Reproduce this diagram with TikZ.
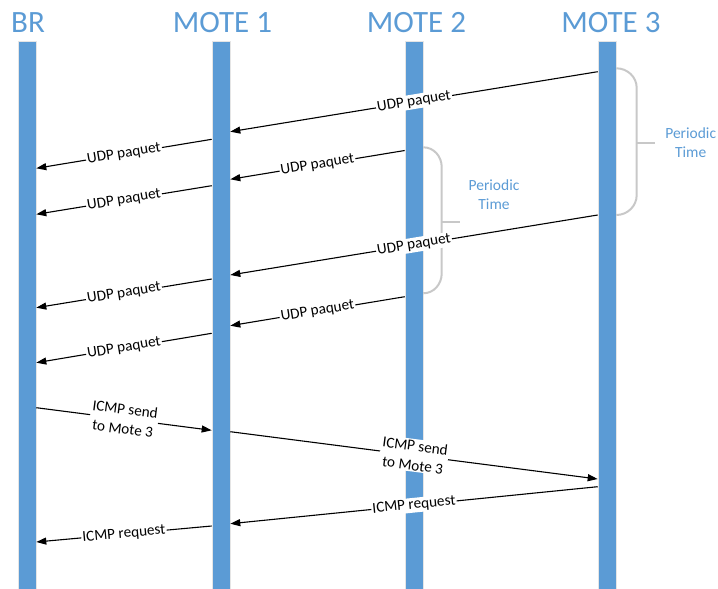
\documentclass[tikz,border=0pt]{standalone}
\usepackage{fontspec}
\setmainfont{Carlito}
\usetikzlibrary{arrows.meta}
\definecolor{officeblue}{HTML}{5B9BD5}
\definecolor{bracegray}{HTML}{C8C8C8}
\begin{document}
\begin{tikzpicture}[x=1pt,y=-1pt,
  bar/.style={fill=officeblue, draw=black!10, line width=0.6pt, minimum width=18pt, minimum height=549pt, inner sep=0pt, anchor=north},
  head/.style={text=officeblue, font=\fontsize{31}{36}\selectfont, anchor=base},
  msg/.style={-{Triangle[length=10pt,width=7pt]}, line width=1.1pt},
  lab/.style={sloped, fill=white, inner sep=1.2pt, font=\fontsize{15.2}{19.5}\selectfont, align=center, text=black},
  brace/.style={draw=bracegray, line width=2pt},
  note/.style={text=officeblue, font=\fontsize{15.5}{18.7}\selectfont, align=center}]
\useasboundingbox (0,0) rectangle (718,589);
% lifelines
\node[bar] (br) at (27,40.7) {};
\node[bar] (m1) at (221,40.7) {};
\node[bar] (m2) at (414,40.7) {};
\node[bar] (m3) at (607,40.7) {};
% headers
\node[head] (hbr) at (28,32.3) {BR};
\node[head] (hm1) at (222.5,32.3) {MOTE 1};
\node[head] (hm2) at (416.5,32.3) {MOTE 2};
\node[head] (hm3) at (611,32.3) {MOTE 3};
% braces
\draw[brace] (m3.east |- 0,68.3) to[out=0,in=90] (636.7,88) -- (636.7,195) to[out=-90,in=0] (m3.east |- 0,215);
\draw[brace] (636.7,142.7) -- (655,142.7);
\node[note] (pt3) at (690.7,143) {Periodic\\Time};
\draw[brace] (m2.east |- 0,147.3) to[out=0,in=90] (441.7,167) -- (441.7,273.5) to[out=-90,in=0] (m2.east |- 0,293.3);
\draw[brace] (441.7,221.7) -- (460,221.7);
\node[note] (pt2) at (494,195) {Periodic\\Time};
% messages
\draw[msg] (m3.west |- 0,71.7) -- node[lab]{UDP paquet} (m1.east |- 0,131.7);
\draw[msg] (m1.west |- 0,139.3) -- node[lab]{UDP paquet} (br.east |- 0,168.3);
\draw[msg] (m2.west |- 0,150.5) -- node[lab]{UDP paquet} (m1.east |- 0,179.3);
\draw[msg] (m1.west |- 0,185.7) -- node[lab]{UDP paquet} (br.east |- 0,214.3);
\draw[msg] (m3.west |- 0,215) -- node[lab]{UDP paquet} (m1.east |- 0,275);
\draw[msg] (m1.west |- 0,279) -- node[lab]{UDP paquet} (br.east |- 0,307.7);
\draw[msg] (m2.west |- 0,296.7) -- node[lab]{UDP paquet} (m1.east |- 0,325.7);
\draw[msg] (m1.west |- 0,333.3) -- node[lab]{UDP paquet} (br.east |- 0,362.7);
\draw[msg] (br.east |- 0,407.7) -- node[lab]{ICMP send\\to Mote 3} (m1.west |- 0,430.3);
\draw[msg] (m1.east |- 0,431.7) -- node[lab]{ICMP send\\to Mote 3} (m3.west |- 0,479);
\draw[msg] (m3.west |- 0,486.7) -- node[lab]{ICMP request} (m1.east |- 0,523.7);
\draw[msg] (m1.west |- 0,526) -- node[lab]{ICMP request} (br.east |- 0,542);
\end{tikzpicture}
\end{document}
